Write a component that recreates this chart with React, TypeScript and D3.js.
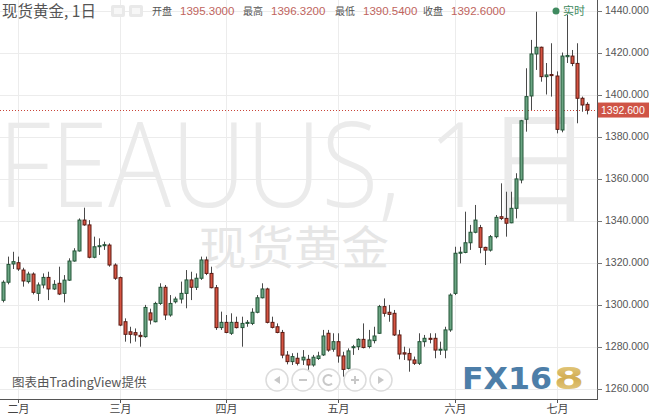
import React from 'react';
import * as d3 from 'd3';

const dates = [
  '2019-01-29','2019-01-30','2019-01-31',
  '2019-02-01','2019-02-04','2019-02-05','2019-02-06','2019-02-07','2019-02-08','2019-02-11','2019-02-12','2019-02-13','2019-02-14','2019-02-15',
  '2019-02-18','2019-02-19','2019-02-20','2019-02-21','2019-02-22','2019-02-25','2019-02-26','2019-02-27','2019-02-28',
  '2019-03-01','2019-03-04','2019-03-05','2019-03-06','2019-03-07','2019-03-08','2019-03-11','2019-03-12','2019-03-13','2019-03-14','2019-03-15',
  '2019-03-18','2019-03-19','2019-03-20','2019-03-21','2019-03-22','2019-03-25','2019-03-26','2019-03-27','2019-03-28','2019-03-29',
  '2019-04-01','2019-04-02','2019-04-03','2019-04-04','2019-04-05','2019-04-08','2019-04-09','2019-04-10','2019-04-11','2019-04-12',
  '2019-04-15','2019-04-16','2019-04-17','2019-04-18','2019-04-19','2019-04-22','2019-04-23','2019-04-24','2019-04-25','2019-04-26',
  '2019-04-29','2019-04-30',
  '2019-05-01','2019-05-02','2019-05-03','2019-05-06','2019-05-07','2019-05-08','2019-05-09','2019-05-10','2019-05-13','2019-05-14',
  '2019-05-15','2019-05-16','2019-05-17','2019-05-20','2019-05-21','2019-05-22','2019-05-23','2019-05-24','2019-05-27','2019-05-28',
  '2019-05-29','2019-05-30','2019-05-31',
  '2019-06-03','2019-06-04','2019-06-05','2019-06-06','2019-06-07','2019-06-10','2019-06-11','2019-06-12','2019-06-13','2019-06-14',
  '2019-06-17','2019-06-18','2019-06-19','2019-06-20','2019-06-21','2019-06-24','2019-06-25','2019-06-26','2019-06-27','2019-06-28',
  '2019-07-01','2019-07-02','2019-07-03','2019-07-04','2019-07-05','2019-07-08','2019-07-09',
];

const opens = [
  1302.0,1310.6,1319.3,
  1319.9,1316.4,1310.9,1314.5,1305.3,1309.3,1312.9,1307.4,1310.1,1305.3,1311.6,
  1320.7,1325.5,1340.2,1337.9,1322.5,1327.6,1328.0,1328.3,1318.8,
  1312.8,1291.8,1287.0,1286.6,1285.3,1284.7,1296.0,1291.8,1300.5,1308.2,1295.0,
  1301.3,1302.6,1305.3,1311.7,1308.2,1312.5,1321.2,1314.8,1308.0,1289.0,
  1291.5,1286.3,1291.5,1289.0,1291.0,1291.0,1296.3,1303.2,1307.4,1291.5,
  1289.4,1286.7,1275.9,1272.8,1274.4,1273.6,1273.9,1271.2,1274.3,1276.0,
  1286.3,1278.7,
  1282.3,1275.5,1269.6,1279.5,1279.9,1283.4,1280.0,1282.8,1286.3,1299.0,
  1296.3,1295.8,1285.5,1277.0,1276.7,1273.6,1272.0,1282.3,1283.9,1283.9,
  1278.3,1278.3,1287.9,
  1305.3,1324.4,1324.8,1329.4,1334.4,1336.6,1327.2,1325.9,1332.3,1341.8,
  1341.0,1338.9,1345.8,1359.3,1388.2,1399.3,1419.3,1422.5,1408.5,1409.5,
  1408.8,1383.1,1418.0,1418.3,1414.8,1398.2,1395.3,
];

const highs = [
  1311.5,1322.8,1325.1,
  1322.8,1317.5,1315.6,1315.3,1310.5,1314.8,1315.6,1311.6,1318.0,1314.0,1322.0,
  1326.8,1341.0,1346.1,1340.2,1332.3,1331.5,1329.9,1329.1,1319.6,
  1313.3,1293.4,1289.4,1288.6,1287.0,1299.8,1298.0,1301.3,1310.1,1309.3,1304.5,
  1303.7,1310.9,1316.4,1315.6,1314.8,1322.8,1322.8,1318.0,1309.3,1296.6,
  1295.0,1295.8,1294.2,1294.2,1292.6,1298.2,1304.5,1310.1,1308.0,1294.2,
  1291.0,1287.9,1277.8,1276.8,1277.0,1278.3,1276.0,1276.0,1277.5,1287.9,
  1287.9,1286.3,
  1286.3,1277.5,1279.1,1280.8,1283.9,1291.0,1287.9,1289.4,1299.8,1302.9,
  1299.8,1297.4,1287.9,1279.9,1279.1,1275.2,1286.3,1285.5,1286.3,1286.3,
  1282.3,1289.4,1305.3,
  1327.5,1327.5,1344.2,1337.9,1347.4,1337.9,1327.5,1333.1,1342.6,1357.7,
  1353.7,1353.7,1362.5,1387.9,1412.5,1426.0,1439.4,1422.8,1415.0,1424.4,
  1411.0,1420.0,1437.9,1421.2,1424.4,1399.0,1396.32,
];

const lows = [
  1301.0,1309.6,1316.9,
  1316.0,1308.5,1310.0,1304.8,1301.7,1307.7,1302.1,1306.9,1304.5,1301.0,1311.2,
  1320.4,1325.2,1337.5,1322.0,1322.0,1323.6,1326.0,1318.0,1311.7,
  1289.7,1282.3,1281.5,1282.3,1279.9,1284.2,1290.5,1291.5,1299.8,1292.6,1294.2,
  1300.5,1300.5,1298.2,1302.1,1306.9,1311.7,1314.0,1307.7,1287.9,1287.9,
  1286.3,1285.5,1288.6,1279.9,1289.4,1290.2,1295.8,1302.9,1291.0,1288.6,
  1286.3,1274.4,1271.5,1271.2,1271.0,1271.2,1268.0,1270.4,1273.6,1275.5,
  1277.5,1277.5,
  1272.3,1265.6,1269.1,1276.0,1278.3,1279.1,1279.1,1281.5,1286.0,1294.2,
  1291.8,1285.0,1273.9,1273.6,1268.0,1271.2,1271.2,1279.9,1281.5,1274.4,
  1276.0,1274.4,1287.0,
  1304.5,1319.6,1324.4,1326.0,1333.9,1324.4,1318.8,1325.2,1331.5,1340.2,
  1332.3,1338.7,1341.0,1357.7,1382.3,1392.6,1411.7,1406.1,1400.0,1399.0,
  1381.5,1382.0,1415.0,1413.5,1386.3,1391.8,1390.54,
];

const closes = [
  1310.6,1319.1,1320.4,
  1316.9,1311.2,1314.5,1305.8,1309.3,1312.9,1307.4,1309.6,1305.0,1311.6,1320.7,
  1325.5,1340.2,1337.9,1322.5,1327.5,1328.0,1328.5,1318.8,1312.5,
  1290.2,1285.8,1285.8,1285.5,1284.7,1298.6,1292.6,1300.5,1308.2,1295.0,1300.5,
  1302.6,1305.3,1311.7,1308.2,1312.5,1321.2,1314.8,1308.0,1289.0,1291.5,
  1286.7,1291.5,1289.0,1291.0,1291.5,1296.3,1303.2,1307.4,1291.5,1289.1,
  1286.7,1275.9,1272.8,1275.2,1272.0,1274.9,1271.2,1274.9,1275.5,1285.0,
  1278.3,1282.3,
  1275.5,1269.1,1277.9,1279.9,1283.4,1279.5,1283.1,1285.0,1299.0,1295.8,
  1295.3,1285.5,1276.4,1276.4,1273.6,1272.0,1282.3,1283.9,1283.4,1278.3,
  1278.7,1287.9,1304.5,
  1324.4,1324.9,1329.4,1334.4,1340.2,1327.2,1325.9,1332.3,1341.5,1341.0,
  1338.7,1345.8,1359.8,1387.5,1399.0,1419.3,1422.5,1408.5,1409.3,1409.0,
  1383.4,1418.3,1418.6,1414.8,1398.2,1395.0,1392.6,
];

const monthStarts = ['2019-02-01', '2019-03-01', '2019-04-01', '2019-05-01', '2019-06-03', '2019-07-01'];
const monthLabels = ['二月', '三月', '四月', '五月', '六月', '七月'];
const priceTicks = [1260, 1280, 1300, 1320, 1340, 1360, 1380, 1400, 1420, 1440];
const lastPrice = 1392.6;
const headerItems = [
  { label: '开盘', value: '1395.3000' },
  { label: '最高', value: '1396.3200' },
  { label: '最低', value: '1390.5400' },
  { label: '收盘', value: '1392.6000' },
];

const W = 649;
const H = 417;
const PLOT_R = 597;
const AXIS_Y = 399;
const CJK = '"Noto Sans CJK SC", "Noto Sans", sans-serif';
const NUM = '"Liberation Sans", Arial, sans-serif';

export default function App() {
  const x = d3.scaleLinear().domain([0, dates.length - 1]).range([2.76, 587]);
  const y = d3.scaleLinear().domain([1260, 1440]).range([388.5, 10.5]);
  const fmt = d3.format('.3f');
  const headerX = [152, 243, 335, 423];
  const navX = [277, 303, 329, 355, 381];

  return (
    <svg width={W} height={H} style={{ position: 'absolute', left: 0, top: 0, display: 'block', background: '#fff' }}>
      <rect x={0} y={0} width={W} height={H} fill="#ffffff" />
      {/* grid */}
      {priceTicks.map((p) => (
        <line key={'h' + p} x1={0} x2={PLOT_R} y1={Math.round(y(p)) + 0.5} y2={Math.round(y(p)) + 0.5} stroke="#ececec" strokeWidth={1} />
      ))}
      {monthStarts.map((d) => {
        const xi = Math.round(x(dates.indexOf(d))) + 0.5;
        return <line key={'v' + d} x1={xi} x2={xi} y1={0} y2={AXIS_Y} stroke="#ececec" strokeWidth={1} />;
      })}
      {/* watermarks */}
      <text x={-2} y={207} fontFamily='"Open Sans", "Liberation Sans", sans-serif' fontWeight={300} fontSize={118} fill="#ebebeb" textLength={594} lengthAdjust="spacingAndGlyphs">FEAUUS, 1日</text>
      <text x={199} y={264} fontFamily={CJK} fontSize={46} fill="#e6e6e6" textLength={190} lengthAdjust="spacingAndGlyphs">现货黄金</text>

      {/* last price dotted line */}
      <line x1={0} x2={PLOT_R} y1={Math.round(y(lastPrice)) + 0.5} y2={Math.round(y(lastPrice)) + 0.5} stroke="#c9453a" strokeWidth={1} strokeDasharray="1,2" />

      {/* candles */}
      {dates.map((d, i) => {
        const cx = Math.round(x(i)) + 0.5;
        const o = opens[i];
        const c = closes[i];
        const up = c >= o;
        const top = y(Math.max(o, c));
        const bot = y(Math.min(o, c));
        const bh = Math.max(1, bot - top);
        return (
          <g key={d}>
            <line x1={cx} x2={cx} y1={y(highs[i])} y2={y(lows[i])} stroke="#4a4a4a" strokeWidth={1} />
            <rect x={cx - 1.5} y={top} width={3} height={bh} fill={up ? '#6ba583' : '#d75442'} stroke={up ? '#225437' : '#5b1a13'} strokeWidth={1} />
          </g>
        );
      })}

      {/* axes */}
      <line x1={PLOT_R + 0.5} x2={PLOT_R + 0.5} y1={0} y2={AXIS_Y} stroke="#555" strokeWidth={1} />
      <line x1={0} x2={PLOT_R + 1} y1={AXIS_Y + 0.5} y2={AXIS_Y + 0.5} stroke="#555" strokeWidth={1} />
      {priceTicks.map((p) => (
        <g key={'t' + p}>
          <line x1={PLOT_R} x2={PLOT_R + 5} y1={Math.round(y(p)) + 0.5} y2={Math.round(y(p)) + 0.5} stroke="#777" />
          <text x={605} y={y(p) + 3.8} fontFamily={NUM} fontSize={10.5} fill="#555">{fmt(p)}</text>
        </g>
      ))}
      <rect x={PLOT_R + 1} y={y(lastPrice) - 7.5} width={W - PLOT_R - 1} height={15} fill="#cf5446" />
      <text x={601} y={y(lastPrice) + 4} fontFamily={NUM} fontSize={10.5} fill="#ffffff">{fmt(lastPrice)}</text>

      {monthStarts.map((d, k) => {
        const xi = Math.round(x(dates.indexOf(d))) + 0.5;
        return (
          <g key={'m' + d}>
            <line x1={xi} x2={xi} y1={AXIS_Y} y2={AXIS_Y + 4} stroke="#555" />
            <text x={xi} y={413} textAnchor="middle" fontFamily={CJK} fontSize={11} fill="#444">{monthLabels[k]}</text>
          </g>
        );
      })}

      {/* header */}
      <text x={2} y={17} fontFamily={CJK} fontSize={15.5} fill="#555">现货黄金, 1日</text>
      <rect x={111} y={5} width={14} height={12} rx={2} fill="#e9e9e9" />
      <rect x={114} y={8} width={8} height={6} fill="#f7f7f7" />
      <rect x={129} y={5} width={14} height={12} rx={2} fill="#e9e9e9" />
      <rect x={132} y={8} width={8} height={6} fill="#f7f7f7" />
      {headerItems.map((h, k) => (
        <g key={h.label}>
          <text x={headerX[k]} y={15} fontFamily={CJK} fontSize={10} fill="#555">{h.label}</text>
          <text x={headerX[k] + 28} y={15} fontFamily={NUM} fontSize={11.5} fill="#c0645d">{h.value}</text>
        </g>
      ))}
      <circle cx={556} cy={11} r={3.5} fill="#3f8a5f" />
      <text x={563} y={15} fontFamily={CJK} fontSize={11} fill="#3f8a5f">实时</text>

      {/* footer */}
      <text x={12} y={387} fontFamily={CJK} fontSize={12.5} fill="#555">图表由TradingView提供</text>
      {navX.map((cx, k) => (
        <g key={'n' + k}>
          <circle cx={cx} cy={380} r={11} fill="rgba(255,255,255,0.85)" stroke="#dcdcdc" strokeWidth={1.5} />
        </g>
      ))}
      <path d={`M${navX[0] + 3},376 L${navX[0] - 3},380 L${navX[0] + 3},384 Z`} fill="#c8c8c8" />
      <line x1={navX[1] - 4} x2={navX[1] + 4} y1={380} y2={380} stroke="#c8c8c8" strokeWidth={2} />
      <path d={`M${navX[2] + 3},376.5 A5,5 0 1,0 ${navX[2] + 3},383.5`} fill="none" stroke="#c8c8c8" strokeWidth={2} />
      <line x1={navX[3] - 4} x2={navX[3] + 4} y1={380} y2={380} stroke="#c8c8c8" strokeWidth={2} />
      <line x1={navX[3]} x2={navX[3]} y1={376} y2={384} stroke="#c8c8c8" strokeWidth={2} />
      <path d={`M${navX[4] - 3},376 L${navX[4] + 3},380 L${navX[4] - 3},384 Z`} fill="#c8c8c8" />

      <defs>
        <linearGradient id="gold" x1="0" y1="0" x2="0" y2="1">
          <stop offset="0" stopColor="#e9d38e" />
          <stop offset="0.5" stopColor="#d2ad52" />
          <stop offset="1" stopColor="#e8d291" />
        </linearGradient>
      </defs>
      <text x={462} y={389} fontFamily='"DejaVu Sans", sans-serif' fontWeight={700} fontSize={31} fill="#4d7ea8" textLength={90} lengthAdjust="spacingAndGlyphs">FX16</text>
      <text x={554} y={389} fontFamily='"DejaVu Sans", sans-serif' fontWeight={700} fontSize={31} fill="url(#gold)" textLength={30} lengthAdjust="spacingAndGlyphs">8</text>
    </svg>
  );
}
